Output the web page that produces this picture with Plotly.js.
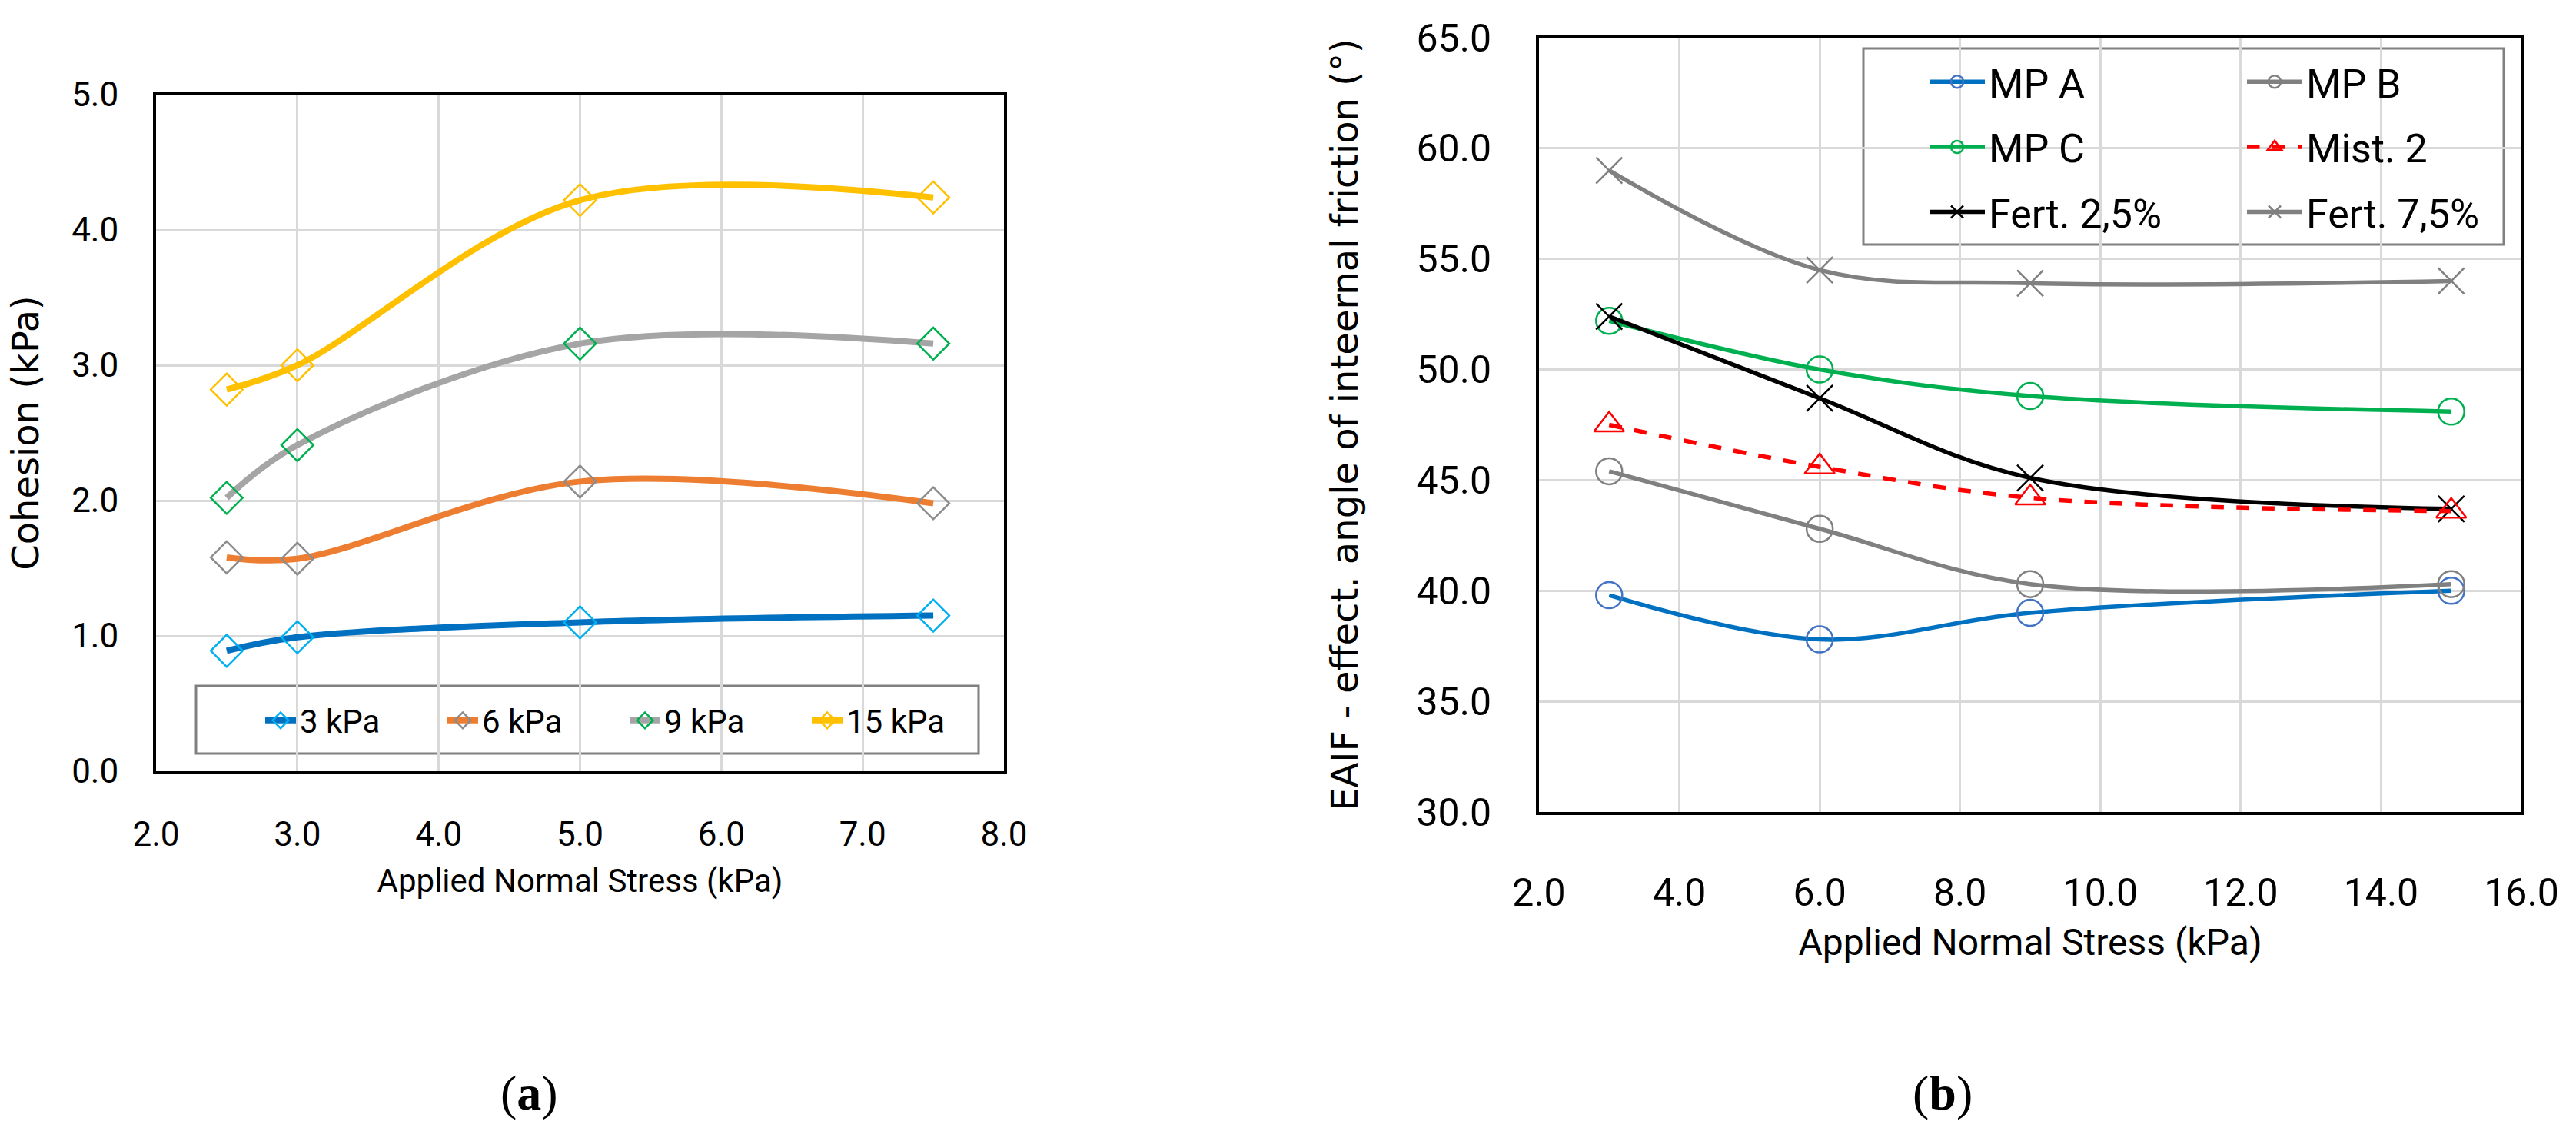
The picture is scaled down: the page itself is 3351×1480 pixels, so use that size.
<!DOCTYPE html>
<html>
<head>
<meta charset="utf-8">
<script src="https://cdn.plot.ly/plotly-3.0.1.min.js"></script>
<style>html,body{margin:0;padding:0;background:#fff}#chart{width:3351px;height:1480px}</style>
</head>
<body>
<div id="chart"></div>
<script>
// ---------- data ----------
const stressA = [2.5, 3.0, 5.0, 7.5];
const coh3kPa = [0.89, 0.99, 1.10, 1.15];
const coh6kPa = [1.58, 1.57, 2.14, 1.98];
const coh9kPa = [2.02, 2.41, 3.16, 3.16];
const coh15kPa = [2.82, 3.00, 4.22, 4.24];
const namesA = ['3 kPa', '6 kPa', '9 kPa', '15 kPa'];

const stressB = [3, 6, 9, 15];
const mpA = [39.8, 37.8, 39.0, 40.0];
const mpB = [45.4, 42.8, 40.3, 40.3];
const mpC = [52.2, 50.0, 48.8, 48.1];
const mist2 = [47.5, 45.6, 44.2, 43.6];
const fert25 = [52.4, 48.7, 45.1, 43.7];
const fert75 = [59.0, 54.5, 53.9, 54.0];
const namesB = ['MP A', 'MP B', 'MP C', 'Mist. 2', 'Fert. 2,5%', 'Fert. 7,5%'];

const xTitle = 'Applied Normal Stress (kPa)';
const yTitleA = 'Cohesion (kPa)';
const yTitleB = 'EAIF - effect. angle of inteernal friction (°)';

// ---------- styles ----------
const NARROW = "'Liberation Sans Narrow', Roboto, 'Liberation Sans', sans-serif";
const WIDE = "'DejaVu Sans', Verdana, sans-serif";
const W = 3351, H = 1480;
const px = v => v / W;
const py = v => (H - v) / H;

function traceA(y, name, lineColor, markerColor) {
  return {
    x: stressA, y: y, name: name, type: 'scatter', mode: 'lines+markers',
    xaxis: 'x', yaxis: 'y', legend: 'legend',
    line: {color: lineColor, width: 8, shape: 'spline', smoothing: 1},
    marker: {symbol: 'diamond-open', size: 32, color: markerColor, line: {width: 2.5, color: markerColor}}
  };
}
function traceB(y, name, lineColor, symbol, markerColor, legend, dash) {
  return {
    x: stressB, y: y, name: name, type: 'scatter', mode: 'lines+markers',
    xaxis: 'x2', yaxis: 'y2', legend: legend, legendgroup: name,
    line: {color: lineColor, width: 5.5, shape: 'spline', smoothing: 1, dash: dash || 'solid'},
    marker: {symbol: symbol, size: 34, color: markerColor, line: {width: 2.5, color: markerColor}}
  };
}

const data = [
  traceA(coh3kPa, namesA[0], '#0070C0', '#00B0F0'),
  traceA(coh6kPa, namesA[1], '#ED7D31', '#8C8C8C'),
  traceA(coh9kPa, namesA[2], '#A5A5A5', '#00B050'),
  traceA(coh15kPa, namesA[3], '#FFC000', '#FFC000'),
  traceB(mpA, namesB[0], '#0070C0', 'circle-open', '#4472C4', 'legend2'),
  traceB(mpC, namesB[2], '#00B050', 'circle-open', '#00B050', 'legend2'),
  traceB(fert25, namesB[4], '#000000', 'x-thin-open', '#000000', 'legend2'),
  traceB(mpB, namesB[1], '#808080', 'circle-open', '#808080', 'legend3'),
  traceB(mist2, namesB[3], '#FF0000', 'triangle-up-open', '#FF0000', 'legend3', 'dash'),
  traceB(fert75, namesB[5], '#808080', 'x-thin-open', '#808080', 'legend3')
];

const gridColor = '#D9D9D9';
function axis(extra) {
  return Object.assign({
    showline: true, linecolor: '#000', linewidth: 4, mirror: true,
    showgrid: true, gridcolor: gridColor, gridwidth: 3, zeroline: false,
    ticks: 'outside', tickcolor: 'rgba(0,0,0,0)', tickformat: '.1f',
    automargin: false, fixedrange: true
  }, extra);
}

const layout = {
  width: W, height: H,
  margin: {l: 0, r: 0, t: 0, b: 0},
  paper_bgcolor: '#fff', plot_bgcolor: '#fff',
  showlegend: true,
  xaxis: axis({domain: [px(203), px(1306)], range: [2, 8], dtick: 1, ticklen: 40,
    tickfont: {family: NARROW, size: 44, color: '#000'},
    title: {text: xTitle, font: {family: NARROW, size: 42, color: '#000'}, standoff: 22}, anchor: 'y'}),
  yaxis: axis({domain: [py(1003), py(123)], range: [0, 5], dtick: 1, ticklen: 36,
    tickfont: {family: NARROW, size: 44, color: '#000'},
    title: {text: yTitleA, font: {family: WIDE, size: 48, color: '#000'}, standoff: 28}, anchor: 'x'}),
  xaxis2: axis({domain: [px(2002), px(3280)], range: [2, 16], dtick: 2, ticklen: 58,
    tickfont: {family: NARROW, size: 50, color: '#000'},
    title: {text: xTitle, font: {family: NARROW, size: 48, color: '#000'}, standoff: 20}, anchor: 'y2'}),
  yaxis2: axis({domain: [py(1056), py(49)], range: [30, 65], dtick: 5, ticklen: 48,
    tickfont: {family: NARROW, size: 50, color: '#000'},
    title: {text: yTitleB, font: {family: WIDE, size: 48, color: '#000'}, standoff: 62}, anchor: 'x2'}),
  legend: {orientation: 'h', x: px(340), xanchor: 'left', y: py(937), yanchor: 'middle',
    bgcolor: 'rgba(0,0,0,0)', borderwidth: 0,
    font: {family: NARROW, size: 42, color: '#000'},
    entrywidth: 182, entrywidthmode: 'pixels', itemwidth: 40, itemclick: false, itemdoubleclick: false},
  legend2: {orientation: 'v', x: px(2505), xanchor: 'left', y: py(66), yanchor: 'top',
    bgcolor: 'rgba(0,0,0,0)', borderwidth: 0, tracegroupgap: 14, itemwidth: 72,
    font: {family: NARROW, size: 52, color: '#000'}, itemclick: false, itemdoubleclick: false},
  legend3: {orientation: 'v', x: px(2918), xanchor: 'left', y: py(66), yanchor: 'top',
    bgcolor: 'rgba(0,0,0,0)', borderwidth: 0, tracegroupgap: 14, itemwidth: 72,
    font: {family: NARROW, size: 52, color: '#000'}, itemclick: false, itemdoubleclick: false},
  shapes: [
    {type: 'rect', xref: 'paper', yref: 'paper', x0: px(255), x1: px(1273), y0: py(980), y1: py(892),
     fillcolor: '#fff', line: {color: '#808080', width: 3}, layer: 'between'},
    {type: 'rect', xref: 'paper', yref: 'paper', x0: px(2424), x1: px(3257), y0: py(318), y1: py(63),
     fillcolor: '#fff', line: {color: '#808080', width: 3}, layer: 'between'}
  ],
  annotations: [
    {text: '(<b>a</b>)', xref: 'paper', yref: 'paper', x: px(688), y: py(1421), xanchor: 'center', yanchor: 'middle',
     showarrow: false, font: {family: "'Liberation Serif', 'DejaVu Serif', serif", size: 64, color: '#000'}},
    {text: '(<b>b</b>)', xref: 'paper', yref: 'paper', x: px(2527), y: py(1421), xanchor: 'center', yanchor: 'middle',
     showarrow: false, font: {family: "'Liberation Serif', 'DejaVu Serif', serif", size: 64, color: '#000'}}
  ]
};

Plotly.newPlot('chart', data, layout, {displayModeBar: false, staticPlot: true});
</script>
</body>
</html>
